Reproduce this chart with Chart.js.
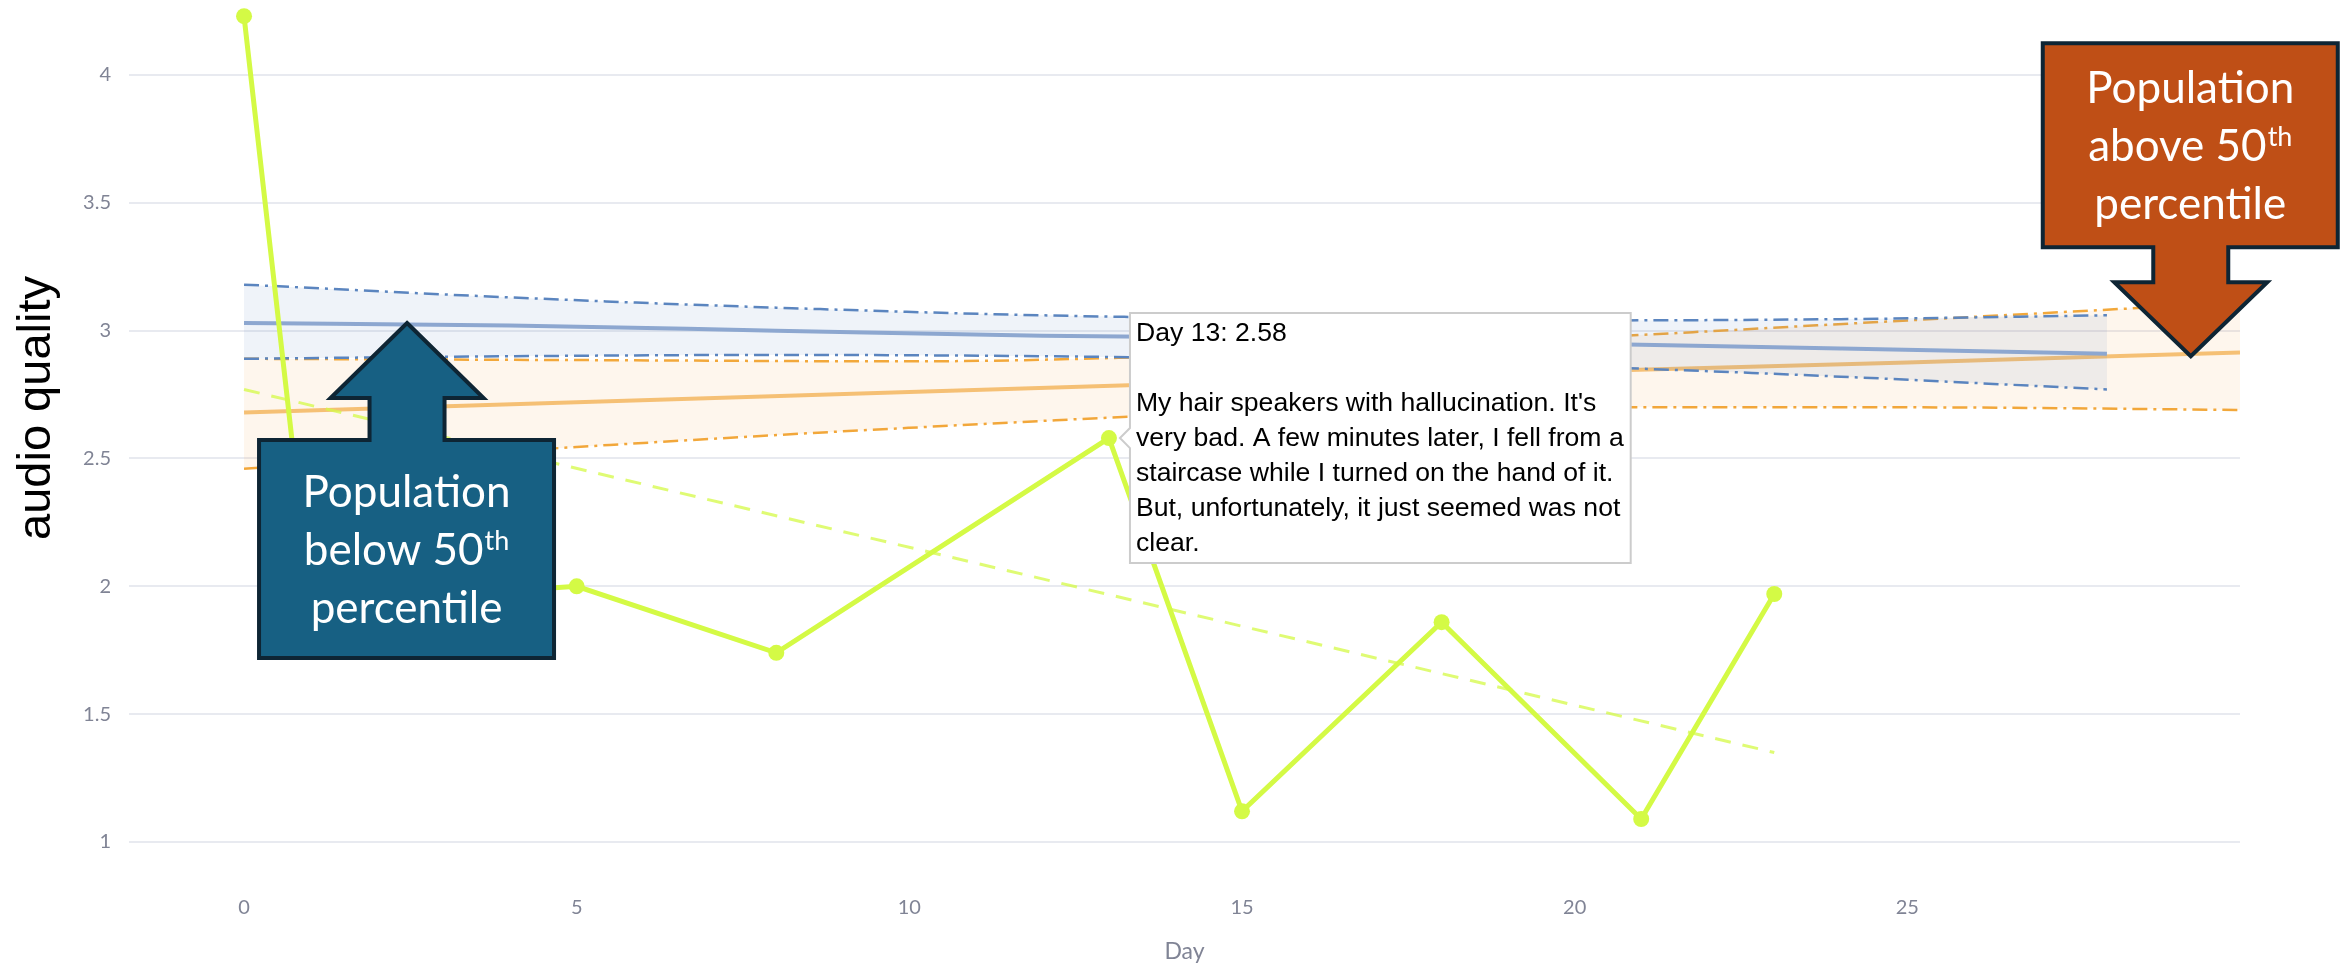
<!DOCTYPE html>
<html>
<head>
<meta charset="utf-8">
<title>audio quality by day</title>
<script src="https://cdn.jsdelivr.net/npm/chart.js@4.4.1/dist/chart.umd.min.js"></script>
<style>
  html, body { margin: 0; padding: 0; background: #fff; }
  #wrap { width: 2343px; height: 973px; }
</style>
</head>
<body>
<div id="wrap"><canvas id="chart" width="2343" height="973"></canvas></div>
<script>
// answers of this participant
const obsDays = [0, 1, 5, 8, 13, 15, 18, 21, 23];
const obsValues = [4.23, 1.93, 2.0, 1.74, 2.58, 1.12, 1.86, 1.09, 1.97];

// participant trend (dashed)
const trendDays = [0, 23];
const trendValues = [2.77, 1.35];

// population below 50th percentile
const lowDays = [0, 4, 8, 12, 16, 20, 24, 28];
const lowMean = [3.03, 3.02, 3.0, 2.98, 2.97, 2.95, 2.93, 2.91];
const lowUpper = [3.18, 3.13, 3.09, 3.06, 3.045, 3.04, 3.045, 3.06];
const lowLower = [2.89, 2.9, 2.905, 2.9, 2.885, 2.86, 2.82, 2.77];

// population above 50th percentile
const highDays = [0, 5, 10, 15, 20, 25, 30];
const highMean = [2.68, 2.72, 2.76, 2.8, 2.84, 2.875, 2.915];
const highUpper = [2.89, 2.885, 2.88, 2.91, 2.97, 3.04, 3.11];
const highLower = [2.46, 2.545, 2.62, 2.68, 2.7, 2.7, 2.69];

const xTicks = [0, 5, 10, 15, 20, 25];
const yTicks = [1, 1.5, 2, 2.5, 3, 3.5, 4];

// hover note shown for one day
const noteDay = 13;
const noteLines = [
  "My hair speakers with hallucination. It's",
  'very bad. A few minutes later, I fell from a',
  'staircase while I turned on the hand of it.',
  'But, unfortunately, it just seemed was not',
  'clear.'
];

const GREEN = '#d4fa45';
const TICK_GREY = '#808495';

// value shown at the top edge of the canvas and units per pixel going down
const Y_AT_TOP = 4.2933;
const Y_PER_PX = 3.4419 / 880;

const pts = (xs, ys) => xs.map((d, i) => ({ x: d, y: ys[i] }));

const bandLine = (label, xs, ys, color, dash, extra) => Object.assign({
  label: label,
  data: pts(xs, ys),
  borderColor: color,
  borderWidth: dash ? 2.5 : 4,
  borderDash: dash || [],
  pointRadius: 0,
  pointHoverRadius: 0,
  cubicInterpolationMode: 'monotone',
  fill: false
}, extra || {});

// callouts pasted over the chart, anchored on data coordinates
const callouts = [
  { lines: [['Population', ''], ['below 50', 'th'], ['percentile', '']],
    day: 2.45, value: 3.03, side: 1, headH: 75, shaftL: 42, boxH: 218, fill: '#176083' },
  { lines: [['Population', ''], ['above 50', 'th'], ['percentile', '']],
    day: 29.26, value: 2.90, side: -1, headH: 74, shaftL: 35, boxH: 204, fill: '#bf4f16' }
];

function drawCallout(ctx, tx, ty, c) {
  const s = c.side;
  const headHalf = 76.5, shaftHalf = 37.5;
  const left = tx - 148, right = tx + 147;
  const hb = ty + s * c.headH;
  const boxNear = ty + s * (c.headH + c.shaftL);
  const boxFar = boxNear + s * c.boxH;

  ctx.save();
  ctx.beginPath();
  ctx.moveTo(tx, ty);
  ctx.lineTo(tx + headHalf, hb);
  ctx.lineTo(tx + shaftHalf, hb);
  ctx.lineTo(tx + shaftHalf, boxNear);
  ctx.lineTo(right, boxNear);
  ctx.lineTo(right, boxFar);
  ctx.lineTo(left, boxFar);
  ctx.lineTo(left, boxNear);
  ctx.lineTo(tx - shaftHalf, boxNear);
  ctx.lineTo(tx - shaftHalf, hb);
  ctx.lineTo(tx - headHalf, hb);
  ctx.closePath();
  ctx.fillStyle = c.fill;
  ctx.fill();
  ctx.lineWidth = 4;
  ctx.lineJoin = 'miter';
  ctx.strokeStyle = '#0e2534';
  ctx.stroke();

  // text
  const cx = (left + right) / 2;
  const cy = (boxNear + boxFar) / 2 + 2;
  const lh = 58;
  const mainFont = '44px Lato, "Open Sans", sans-serif';
  const supFont = '27px Lato, "Open Sans", sans-serif';
  ctx.fillStyle = '#ffffff';
  ctx.textBaseline = 'middle';
  ctx.textAlign = 'left';
  c.lines.forEach((ln, i) => {
    const y = cy + (i - (c.lines.length - 1) / 2) * lh;
    ctx.font = mainFont;
    const w1 = ctx.measureText(ln[0]).width;
    ctx.font = supFont;
    const w2 = ln[1] ? ctx.measureText(ln[1]).width + 1 : 0;
    const x0 = cx - (w1 + w2) / 2;
    ctx.font = mainFont;
    ctx.fillText(ln[0], x0, y);
    if (ln[1]) {
      ctx.font = supFont;
      ctx.fillText(ln[1], x0 + w1 + 1, y - 10);
    }
  });
  ctx.restore();
}

const overlayPlugin = {
  id: 'overlay',
  afterDraw(chart) {
    const { ctx } = chart;
    const x = chart.scales.x, y = chart.scales.y;

    // y axis title, as placed on the slide
    ctx.save();
    ctx.translate(37, 408);
    ctx.rotate(-Math.PI / 2);
    ctx.font = '47px "Liberation Sans", Arial, sans-serif';
    ctx.fillStyle = '#000';
    ctx.textAlign = 'center';
    ctx.textBaseline = 'middle';
    ctx.fillText('audio quality', 0, 0);
    ctx.restore();

    callouts.forEach(c => drawCallout(ctx, x.getPixelForValue(c.day), y.getPixelForValue(c.value), c));
  }
};

const zeroPad = scale => {
  scale.paddingLeft = 0;
  scale.paddingRight = 0;
  scale.paddingTop = 0;
  scale.paddingBottom = 0;
};

const ctx = document.getElementById('chart').getContext('2d');

const chart = new Chart(ctx, {
  type: 'line',
  data: {
    datasets: [
      {
        label: 'participant',
        data: pts(obsDays, obsValues),
        borderColor: GREEN,
        backgroundColor: GREEN,
        borderWidth: 5,
        pointRadius: 8,
        pointHoverRadius: 8,
        pointBorderWidth: 0,
        pointBackgroundColor: GREEN,
        tension: 0,
        fill: false
      },
      {
        label: 'participant trend',
        data: pts(trendDays, trendValues),
        borderColor: 'rgba(212,250,69,0.75)',
        borderWidth: 3,
        borderDash: [16, 12],
        pointRadius: 0,
        pointHoverRadius: 0,
        fill: false
      },
      bandLine('below 50th upper', lowDays, lowUpper, '#5b85bf', [15, 6, 3, 6],
        { fill: '+2', backgroundColor: 'rgba(90,130,190,0.095)' }),
      bandLine('below 50th mean', lowDays, lowMean, '#93acd2'),
      bandLine('below 50th lower', lowDays, lowLower, '#5b85bf', [15, 6, 3, 6]),
      bandLine('above 50th upper', highDays, highUpper, '#f2a83b', [15, 6, 3, 6],
        { fill: '+2', backgroundColor: 'rgba(240,160,60,0.09)' }),
      bandLine('above 50th mean', highDays, highMean, '#f6c47c'),
      bandLine('above 50th lower', highDays, highLower, '#f2a83b', [15, 6, 3, 6])
    ]
  },
  options: {
    responsive: false,
    animation: false,
    devicePixelRatio: 1,
    events: [],
    layout: { padding: { left: 0, right: 103, top: 0, bottom: 0 } },
    scales: {
      x: {
        type: 'linear',
        min: -1.729,
        max: 30,
        afterBuildTicks: scale => { scale.ticks = xTicks.map(v => ({ value: v })); },
        afterFit: scale => {
          scale.height = 93;
          zeroPad(scale);
        },
        grid: { display: false, drawTicks: false },
        border: { display: false },
        ticks: {
          padding: 16,
          maxRotation: 0,
          autoSkip: false,
          color: TICK_GREY,
          font: { family: 'Lato, "Open Sans", sans-serif', size: 20 },
          callback: v => String(v)
        },
        title: {
          display: true,
          text: 'Day',
          color: TICK_GREY,
          font: { family: 'Lato, "Open Sans", sans-serif', size: 23 },
          padding: { top: 0, bottom: 8 }
        }
      },
      y: {
        type: 'linear',
        min: Y_AT_TOP - 880 * Y_PER_PX,
        max: Y_AT_TOP,
        afterBuildTicks: scale => { scale.ticks = yTicks.map(v => ({ value: v })); },
        afterFit: scale => {
          scale.width = 129;
          zeroPad(scale);
        },
        grid: { color: '#e8eaf0', lineWidth: 2, drawTicks: false },
        border: { display: false },
        ticks: {
          padding: 18,
          color: TICK_GREY,
          font: { family: 'Lato, "Open Sans", sans-serif', size: 20 },
          callback: v => String(v)
        }
      }
    },
    plugins: {
      legend: { display: false },
      tooltip: {
        enabled: true,
        xAlign: 'left',
        yAlign: 'center',
        backgroundColor: '#ffffff',
        borderColor: '#cccccc',
        borderWidth: 2,
        cornerRadius: 0,
        caretSize: 10,
        caretPadding: 11,
        displayColors: false,
        padding: { top: 3, bottom: 2, left: 6, right: 7 },
        titleColor: '#000',
        bodyColor: '#000',
        titleFont: { family: '"Liberation Sans", Arial, sans-serif', size: 26.6, weight: 'normal', lineHeight: 1.316 },
        bodyFont: { family: '"Liberation Sans", Arial, sans-serif', size: 26.6, weight: 'normal', lineHeight: 1.316 },
        titleSpacing: 0,
        titleMarginBottom: 0,
        bodySpacing: 0,
        callbacks: {
          title: items => ['Day ' + items[0].parsed.x + ': ' + items[0].parsed.y, ''],
          label: () => noteLines
        }
      }
    }
  },
  plugins: [overlayPlugin]
});

// keep the value scale tied to canvas pixels whatever plot box the layout gave
const area = chart.chartArea;
chart.options.scales.y.max = Y_AT_TOP - area.top * Y_PER_PX;
chart.options.scales.y.min = Y_AT_TOP - area.bottom * Y_PER_PX;
chart.update();

// show the hover note for the chosen day
chart.tooltip.setActiveElements(
  [{ datasetIndex: 0, index: obsDays.indexOf(noteDay) }],
  { x: 0, y: 0 }
);
chart.update();
</script>
</body>
</html>
